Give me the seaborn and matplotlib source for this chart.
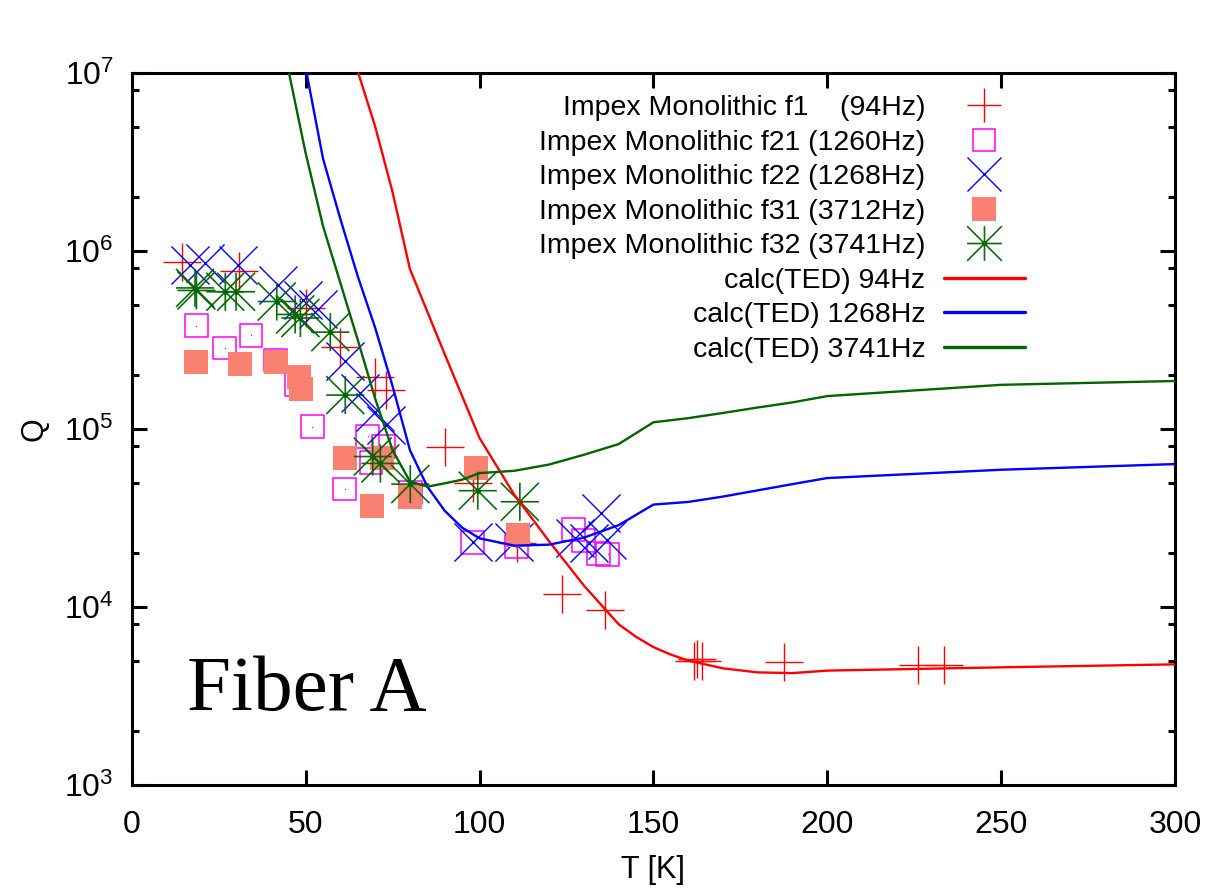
import numpy as np
import pandas as pd
import matplotlib
matplotlib.use("Agg")
import matplotlib.pyplot as plt
import seaborn as sns
from matplotlib.path import Path
from matplotlib.lines import Line2D
from matplotlib.ticker import LogLocator, FixedLocator, NullFormatter

# ---- measured Q(T) for the Impex monolithic fiber modes ----
f1_T = [14.5, 30.8, 50.0, 60.0, 70.0, 73.0, 90.2, 98.0, 110.7, 123.6, 136.0,
        161.8, 162.5, 164.0, 187.6, 226.0, 233.6]
f1_Q = [8.7e5, 7.7e5, 4.8e5, 2.9e5, 1.95e5, 1.65e5, 7.9e4, 5.0e4, 2.3e4, 1.18e4, 9.6e3,
        5.0e3, 5.1e3, 4.95e3, 4.9e3, 4.7e3, 4.7e3]

f21_T = [18.5, 26.8, 34.3, 41.3, 47.5, 51.9, 61.2, 67.8, 68.8, 72.3, 80.2,
         98.1, 110.6, 127.1, 130.0, 134.3, 136.9]
f21_Q = [3.8e5, 2.85e5, 3.36e5, 2.44e5, 1.77e5, 1.03e5, 4.6e4, 9.1e4, 6.5e4, 8.0e4, 4.4e4,
         2.31e4, 2.18e4, 2.71e4, 2.37e4, 2.0e4, 1.98e4]

f22_T = [16.8, 21.0, 30.6, 42.0, 49.3, 53.6, 61.4, 65.7, 70.0, 73.0,
         98.1, 109.9, 127.6, 131.4, 134.8, 136.7]
f22_Q = [8.3e5, 8.6e5, 8.3e5, 6.4e5, 5.3e5, 4.7e5, 2.4e5, 1.6e5, 1.25e5, 1.05e5,
         2.31e4, 2.31e4, 2.43e4, 2.3e4, 3.39e4, 2.37e4]

f31_T = [18.5, 31.2, 41.4, 48.0, 48.7, 61.4, 69.2, 72.0, 80.1, 99.1, 111.1]
f31_Q = [2.39e5, 2.32e5, 2.39e5, 1.97e5, 1.68e5, 6.9e4, 3.7e4, 6.9e4, 4.17e4, 6.0e4, 2.54e4]

f32_T = [18.2, 18.6, 26.9, 30.0, 41.7, 47.0, 48.5, 57.1, 61.4, 69.3, 71.5, 80.1, 99.5, 111.6]
f32_Q = [6.2e5, 6.0e5, 5.9e5, 5.9e5, 5.2e5, 4.4e5, 4.2e5, 3.5e5, 1.55e5, 7.0e4, 6.4e4,
         4.9e4, 4.5e4, 3.9e4]

# ---- thermoelastic damping calculation ----
ted94_T = [65, 70, 75, 80, 90, 100, 110, 120, 130, 140, 145, 150, 155, 160, 170, 180, 190,
           200, 250, 300]
ted94_Q = [1.02e7, 5.0e6, 2.14e6, 7.9e5, 2.63e5, 8.9e4, 4.27e4, 2.34e4, 1.32e4, 8.0e3, 6.8e3,
           5.95e3, 5.4e3, 5.0e3, 4.52e3, 4.29e3, 4.25e3, 4.39e3, 4.58e3, 4.76e3]

ted1268_T = [50, 55, 60, 65, 70, 75, 80, 85, 90, 95, 100, 110, 120, 130, 140, 150, 160,
             170, 180, 190, 200, 250, 300]
ted1268_Q = [1.07e7, 3.3e6, 1.51e6, 7.2e5, 3.7e5, 1.74e5, 7.6e4, 4.74e4, 3.47e4, 2.79e4,
             2.43e4, 2.21e4, 2.24e4, 2.45e4, 2.88e4, 3.76e4, 3.89e4, 4.17e4, 4.52e4, 4.9e4,
             5.3e4, 5.9e4, 6.35e4]

ted3741_T = [45, 50, 55, 60, 65, 70, 75, 80, 85, 90, 95, 100, 110, 120, 130, 140, 150, 160,
             170, 180, 190, 200, 250, 300]
ted3741_Q = [1.05e7, 3.55e6, 1.38e6, 6.6e5, 3.16e5, 1.48e5, 7.6e4, 5.07e4, 4.74e4, 4.95e4,
             5.19e4, 5.65e4, 5.82e4, 6.31e4, 7.16e4, 8.22e4, 1.09e5, 1.15e5, 1.23e5, 1.32e5,
             1.41e5, 1.53e5, 1.77e5, 1.86e5]

labels = ["Impex Monolithic f1    (94Hz)",
          "Impex Monolithic f21 (1260Hz)",
          "Impex Monolithic f22 (1268Hz)",
          "Impex Monolithic f31 (3712Hz)",
          "Impex Monolithic f32 (3741Hz)",
          "calc(TED) 94Hz",
          "calc(TED) 1268Hz",
          "calc(TED) 3741Hz"]

RED, MAG, BLUE, SALMON, GREEN = "#ff0000", "#ff00ff", "#0000ff", "#fa8072", "#006400"

sns.set_theme(style="ticks")
plt.rcParams["font.family"] = ["Liberation Sans", "DejaVu Sans"]
plt.rcParams.update({
    "axes.linewidth": 2.2,
    "text.color": "black",
    "axes.labelcolor": "black",
    "xtick.color": "black",
    "ytick.color": "black",
    "axes.edgecolor": "black",
})

# asterisk marker: plus and cross sharing one square box
asterisk = Path([(-1, 0), (1, 0), (0, -1), (0, 1), (-1, -1), (1, 1), (-1, 1), (1, -1)],
                [Path.MOVETO, Path.LINETO] * 4)

fig = plt.figure(figsize=(12.12, 8.92), dpi=100)
ax = fig.add_axes([0.1087, 0.1200, 0.8608, 0.7982])
ax.set_yscale("log")

big = 27.4 ** 2
sns.scatterplot(x=f1_T, y=f1_Q, marker="+", s=big, color=RED, linewidth=1.0, ax=ax, zorder=3)
sns.scatterplot(x=f21_T, y=f21_Q, marker="s", s=16.5 ** 2, facecolor="none",
                edgecolor=MAG, linewidth=1.1, ax=ax, zorder=3)
sns.scatterplot(x=f21_T, y=f21_Q, marker="o", s=1.0, color=MAG, linewidth=0, ax=ax, zorder=3)
sns.scatterplot(x=f22_T, y=f22_Q, marker="x", s=big, color=BLUE, linewidth=1.0, ax=ax, zorder=3)
sns.scatterplot(x=f31_T, y=f31_Q, marker="s", s=17.3 ** 2, color=SALMON, linewidth=0,
                ax=ax, zorder=3)
sns.scatterplot(x=f32_T, y=f32_Q, marker=asterisk, s=big, facecolor="none", edgecolor=GREEN,
                alpha=0.95, linewidth=1.2, ax=ax, zorder=3)
sns.scatterplot(x=f32_T, y=f32_Q, marker="o", s=12, color=GREEN, linewidth=0, ax=ax, zorder=3)

lw = 1.7
sns.lineplot(x=ted94_T, y=ted94_Q, color=RED, lw=lw, sort=False, estimator=None, ax=ax, zorder=4)
sns.lineplot(x=ted1268_T, y=ted1268_Q, color=BLUE, lw=lw, sort=False, estimator=None, ax=ax, zorder=4)
sns.lineplot(x=ted3741_T, y=ted3741_Q, color=GREEN, lw=lw, sort=False, estimator=None, ax=ax, zorder=4)

ax.set_xlim(0, 300)
ax.set_ylim(1e3, 1e7)
ax.xaxis.set_major_locator(FixedLocator([0, 50, 100, 150, 200, 250, 300]))
ax.yaxis.set_major_locator(LogLocator(base=10, numticks=10))
ax.yaxis.set_minor_locator(LogLocator(base=10, subs=[2, 5, 8], numticks=10))
ax.yaxis.set_minor_formatter(NullFormatter())
ax.tick_params(which="both", direction="in", top=True, right=True, width=2.2,
               labelsize=23, colors="black")
ax.tick_params(which="major", length=11)
ax.tick_params(axis="y", which="major", pad=13)
ax.tick_params(axis="x", which="major", pad=18)
ax.tick_params(which="minor", length=5)
ax.tick_params(axis="x", which="minor", top=False, bottom=False)

ax.set_xlabel("T [K]", fontsize=22, color="black")
ax.set_ylabel("Q", fontsize=22, color="black")
ax.xaxis.set_label_coords(0.5, -0.099)
ax.yaxis.set_label_coords(-0.079, 0.5)

ax.text(0.053, 0.105, "Fiber A", transform=ax.transAxes, fontsize=57, color="black",
        family=["Liberation Serif", "DejaVu Serif"], va="baseline", ha="left")

handles = [
    Line2D([], [], ls="", marker="+", ms=25, mew=1.0, color=RED),
    Line2D([], [], ls="", marker="s", ms=16, mew=1.1, mfc="none", mec=MAG),
    Line2D([], [], ls="", marker="x", ms=25, mew=1.0, color=BLUE),
    Line2D([], [], ls="", marker="s", ms=17, mew=0, color=SALMON),
    Line2D([], [], ls="", marker=asterisk, ms=25, mew=1.2, mfc="none", mec=GREEN, alpha=0.95),
    Line2D([], [], color=RED, lw=2.4),
    Line2D([], [], color=BLUE, lw=2.4),
    Line2D([], [], color=GREEN, lw=2.4),
]
leg = ax.legend(handles, labels, loc="upper right", bbox_to_anchor=(0.856, 0.969),
                frameon=False, markerfirst=False, fontsize=20.5, handlelength=2.85,
                handletextpad=0.65, labelspacing=0.3, borderpad=0, borderaxespad=0)
for t in leg.get_texts():
    t.set_color("black")

fig.savefig("out.png", dpi=100, facecolor="white")
